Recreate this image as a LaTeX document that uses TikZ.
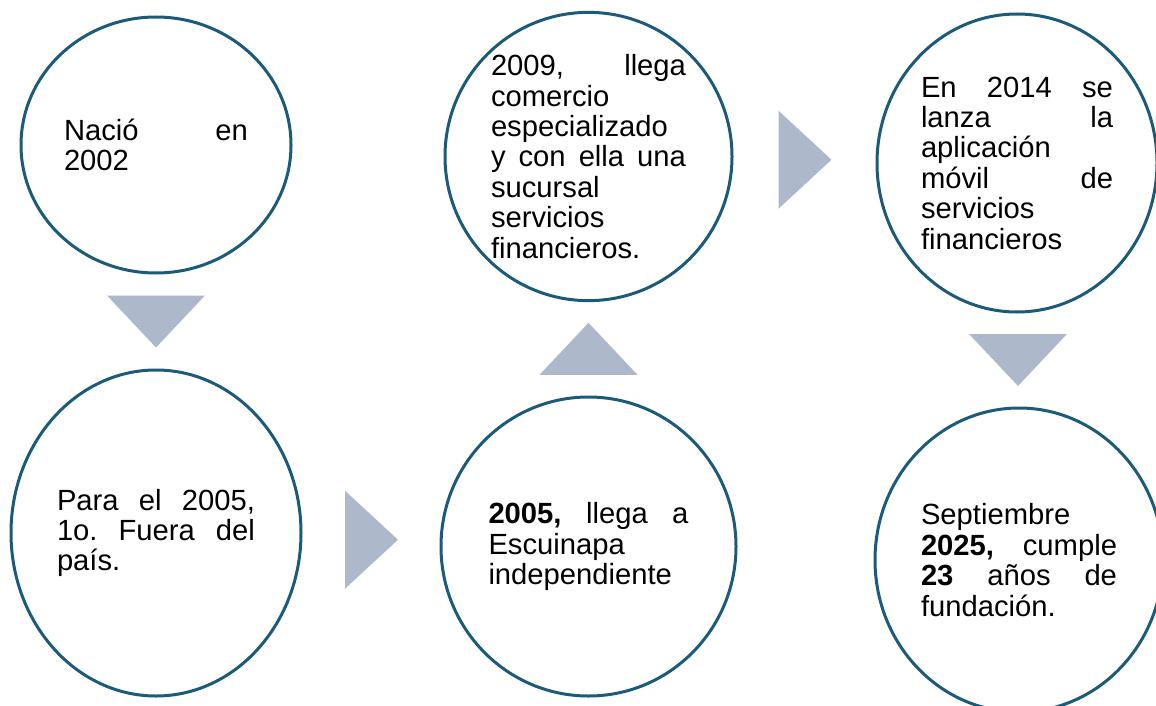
\documentclass[tikz,border=0pt]{standalone}
\usepackage{fontspec}
\setmainfont{Liberation Sans}
\usepackage{xcolor}
\usepackage{tikz}
\usetikzlibrary{shapes.geometric,calc}
\definecolor{borde}{RGB}{28,90,122}
\definecolor{gris}{RGB}{173,185,202}
\hyphenpenalty=10000
\exhyphenpenalty=10000
\frenchspacing

\begin{document}
\begin{tikzpicture}[%
  x=0.5pt, y=-0.5pt,
  hito/.style={draw=borde, line width=1.5pt, ellipse, inner sep=0pt,
    align=justify, font=\fontsize{14.6pt}{15.2pt}\selectfont},
  flecha/.style={fill=gris}
  ]
  \useasboundingbox (0,0) rectangle (1156,706);
  \node[hito, minimum width=135pt, minimum height=128pt, text width=92pt] (nacio) at (156,145)
    {Nació en\linebreak 2002};
  \node[hito, minimum width=145pt, minimum height=163pt, text width=99pt] (fuera) at (156,533)
    {Para el 2005,\linebreak 1o. Fuera del\linebreak país.};
  \node[hito, minimum width=147.5pt, minimum height=149.5pt, text width=100pt] (escuinapa) at (588.5,546.5)
    {\textbf{2005,} llega a\linebreak Escuinapa\linebreak independiente};
  \node[hito, minimum width=143.5pt, minimum height=142.5pt, text width=97.5pt] (comercio) at (588.5,156.5)
    {2009, llega\linebreak comercio\linebreak especializado\linebreak y con ella una\linebreak sucursal\linebreak servicios\linebreak financieros.};
  \node[hito, minimum width=140pt, minimum height=149pt, text width=96pt] (app) at (1017,163)
    {En 2014 se\linebreak lanza la\linebreak aplicación\linebreak móvil de\linebreak servicios\linebreak financieros};
  \node[hito, minimum width=144pt, minimum height=152pt, text width=98pt] (aniversario) at (1019,560)
    {Septiembre\linebreak \textbf{2025,} cumple\linebreak \textbf{23} años de\linebreak fundación.};
  % triangulos entre los hitos
  \coordinate (t1) at ($(nacio.south)!0.5!(fuera.north)$);
  \coordinate (t2) at ($(fuera.east)!0.5!(escuinapa.west)$);
  \coordinate (t3) at ($(escuinapa.north)!0.5!(comercio.south)$);
  \coordinate (t4) at ($(comercio.east)!0.5!(app.west)$);
  \coordinate (t5) at ($(app.south)!0.5!(aniversario.north)$);
  \fill[flecha] (t1) ++(-49,-26) -- ++(98,0) -- ++(-49,52) -- cycle;
  \fill[flecha] (t2) ++(-26,-49) -- ++(0,98) -- ++(53,-49) -- cycle;
  \fill[flecha] (t3) ++(-49,26) -- ++(98,0) -- ++(-49,-52) -- cycle;
  \fill[flecha] (t4) ++(-26,-49) -- ++(0,98) -- ++(53,-49) -- cycle;
  \fill[flecha] (t5) ++(-49,-26) -- ++(98,0) -- ++(-49,52) -- cycle;
\end{tikzpicture}
\end{document}
